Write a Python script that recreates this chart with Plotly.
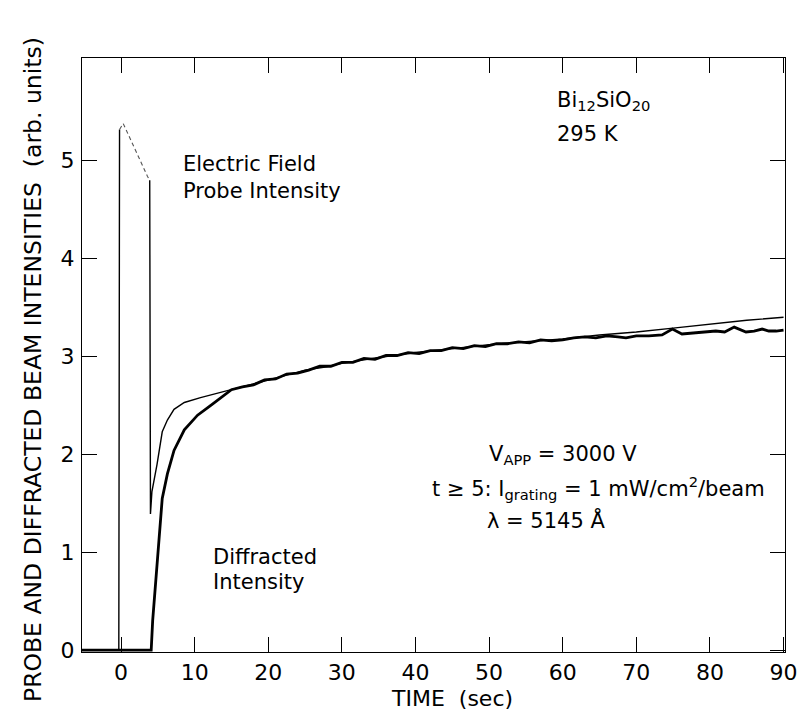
import plotly.graph_objects as go

# Probe (electric-field) intensity, thin trace, split in three pen segments
probe_rise_t = [-5.3, -0.3, -0.2]
probe_rise_v = [0.0, 0.0, 5.32]
probe_fall_t = [-0.2, 0.3, 3.6, 3.9]          # fast pen stroke, drawn faint/dashed
probe_fall_v = [5.32, 5.38, 4.84, 4.80]
probe_t = [3.9, 4.0, 4.2, 4.9, 5.6, 6.3, 7.2, 8.6, 10.8, 14.0,
           15.0, 17.5, 20, 22.5, 25, 27.5, 30, 35, 40, 45, 50, 55, 60, 65, 70, 75, 80, 85, 90]
probe_v = [4.80, 1.39, 1.62, 1.90, 2.23, 2.35, 2.46, 2.53, 2.58, 2.64,
           2.66, 2.71, 2.76, 2.81, 2.86, 2.89, 2.93, 2.99, 3.04, 3.08, 3.12, 3.15, 3.18, 3.22, 3.25,
           3.29, 3.33, 3.37, 3.40]

# Diffracted intensity, thick trace
diff_t = [-5.3, 4.1, 4.3, 4.7, 5.1, 5.6, 6.3, 7.2, 8.6, 10.4, 12.2, 14.0,
          15, 16.5, 18, 19.5, 21, 22.5, 24, 25.5, 27, 28.5, 30, 31.5, 33, 34.5, 36, 37.5, 39,
          40.5, 42, 43.5, 45, 46.5, 48, 49.5, 51, 52.5, 54, 55.5, 57, 58.5, 60, 61.5, 63, 64.5,
          66, 67.5, 68.6, 70, 71.7, 73.5, 74.9, 76.2, 78, 79.5, 80.8, 82, 83.3, 84.9, 86, 87.1,
          88, 89, 90]
diff_v = [0.0, 0.0, 0.3, 0.66, 1.05, 1.55, 1.80, 2.04, 2.25, 2.40, 2.50, 2.60,
          2.66, 2.69, 2.71, 2.76, 2.77, 2.82, 2.83, 2.86, 2.90, 2.90, 2.94, 2.94, 2.98, 2.97,
          3.01, 3.01, 3.04, 3.03, 3.06, 3.06, 3.09, 3.08, 3.11, 3.10, 3.13, 3.13, 3.15, 3.14,
          3.17, 3.16, 3.17, 3.19, 3.20, 3.19, 3.21, 3.20, 3.19, 3.21, 3.21, 3.22, 3.28, 3.23,
          3.24, 3.25, 3.26, 3.25, 3.30, 3.25, 3.26, 3.28, 3.26, 3.26, 3.27]

x_ticks = [0, 10, 20, 30, 40, 50, 60, 70, 80, 90]
y_ticks = [0, 1, 2, 3, 4, 5]

FONT = "DejaVu Sans"

fig = go.Figure()
fig.add_trace(go.Scatter(x=diff_t, y=diff_v, mode="lines",
                         line=dict(color="black", width=2.8), showlegend=False))
fig.add_trace(go.Scatter(x=probe_rise_t, y=probe_rise_v, mode="lines",
                         line=dict(color="black", width=1.4), showlegend=False))
fig.add_trace(go.Scatter(x=probe_fall_t, y=probe_fall_v, mode="lines",
                         line=dict(color="#555555", width=1.1, dash="4px,3px"), showlegend=False))
fig.add_trace(go.Scatter(x=probe_t, y=probe_v, mode="lines",
                         line=dict(color="black", width=1.4), showlegend=False))

axis_common = dict(showline=True, linecolor="black", linewidth=1.4, mirror="ticks",
                   ticks="inside", ticklen=15, tickwidth=1.4, tickcolor="black",
                   showgrid=False, zeroline=False, automargin=False,
                   tickfont=dict(family=FONT, size=22, color="black"))

fig.update_xaxes(range=[-5.3, 90.2], tickvals=x_ticks, ticktext=[str(v) for v in x_ticks],
                 **axis_common)
fig.update_yaxes(range=[-0.02, 6.05], tickvals=y_ticks, ticktext=[str(v) for v in y_ticks],
                 ticklabelstandoff=2, **axis_common)

ann_font = dict(family=FONT, size=21, color="black")
annotations = [
    dict(x=8.15, y=4.83, text="Electric Field<br>Probe Intensity", xanchor="left",
         yanchor="middle", align="left"),
    dict(x=59, y=5.61, text="Bi<sub>12</sub>SiO<sub>20</sub>", xanchor="left", yanchor="middle"),
    dict(x=59, y=5.27, text="295 K", xanchor="left", yanchor="middle"),
    dict(x=60.0, y=1.99, text="V<sub>APP</sub> = 3000 V", xanchor="center", yanchor="middle"),
    dict(x=64.9, y=1.656, text="t \u2265 5: I<sub>grating</sub> = 1 mW/cm<sup>2</sup>/beam",
         xanchor="center", yanchor="middle"),
    dict(x=57.7, y=1.33, text="\u03bb = 5145 \u00c5", xanchor="center", yanchor="middle"),
    dict(x=12.2, y=0.951, text="Diffracted", xanchor="left", yanchor="middle"),
    dict(x=12.2, y=0.695, text="Intensity", xanchor="left", yanchor="middle"),
]
for a in annotations:
    fig.add_annotation(xref="x", yref="y", showarrow=False, font=ann_font, **a)

fig.add_annotation(xref="paper", yref="paper", x=(444 - 74) / 703, y=(644 - 690) / 594,
                   text="TIME  (sec)", showarrow=False, xanchor="center", yanchor="middle",
                   font=dict(family=FONT, size=22, color="black"))
fig.add_annotation(xref="paper", yref="paper", x=(25 - 74) / 703, y=(644 - 362) / 594,
                   text="PROBE AND DIFFRACTED BEAM INTENSITIES  (arb. units)", textangle=-90,
                   showarrow=False, xanchor="center", yanchor="middle",
                   font=dict(family=FONT, size=23.5, color="black"))

fig.update_layout(width=806, height=712, margin=dict(l=74, r=29, t=50, b=68),
                  paper_bgcolor="white", plot_bgcolor="white")

fig.write_html("out.html")
